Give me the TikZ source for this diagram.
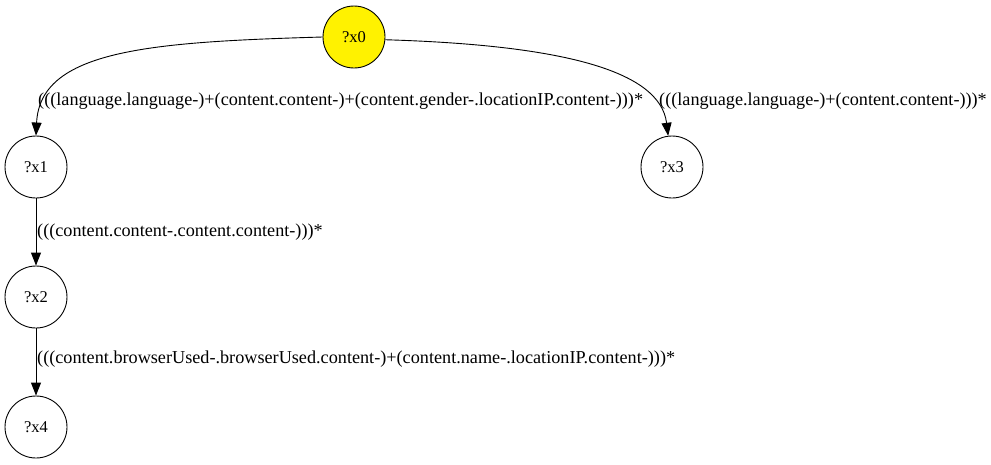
\documentclass[tikz,border=0pt]{standalone}
\usepackage{fontspec}
\setmainfont{Liberation Serif}
\usetikzlibrary{arrows.meta}
\begin{document}
\begin{tikzpicture}[x=1pt,y=1pt,
  var/.style={circle,draw,line width=0.9pt,minimum size=62pt,inner sep=0pt,font=\fontsize{16.5}{18}\selectfont},
  edge/.style={line width=0.9pt,-{Triangle[length=13pt,width=10pt]}},
  lab/.style={anchor=west,inner sep=0pt,font=\fontsize{18.2}{20}\selectfont}]
\useasboundingbox (0,0) rectangle (991,-464);
\node[var,fill=yellow] (x0) at (354,-37) {?x0};
\node[var] (x1) at (36,-167) {?x1};
\node[var] (x3) at (672,-167) {?x3};
\node[var] (x2) at (36,-297) {?x2};
\node[var] (x4) at (36,-427) {?x4};
\draw[edge] (x0.west) .. controls (150,-42) and (40,-50) .. (x1.north);
\draw[edge] (x0.-5) .. controls (560,-45) and (660,-70) .. (x3.97);
\draw[edge] (x1) -- (x2);
\draw[edge] (x2) -- (x4);
\node[lab] (l1) at (38,-101) {(((language.language-)+(content.content-)+(content.gender-.locationIP.content-)))*};
\node[lab] (l2) at (659,-101) {(((language.language-)+(content.content-)))*};
\node[lab] (l3) at (37,-232) {(((content.content-.content.content-)))*};
\node[lab] (l4) at (37,-359) {(((content.browserUsed-.browserUsed.content-)+(content.name-.locationIP.content-)))*};
\end{tikzpicture}
\end{document}
